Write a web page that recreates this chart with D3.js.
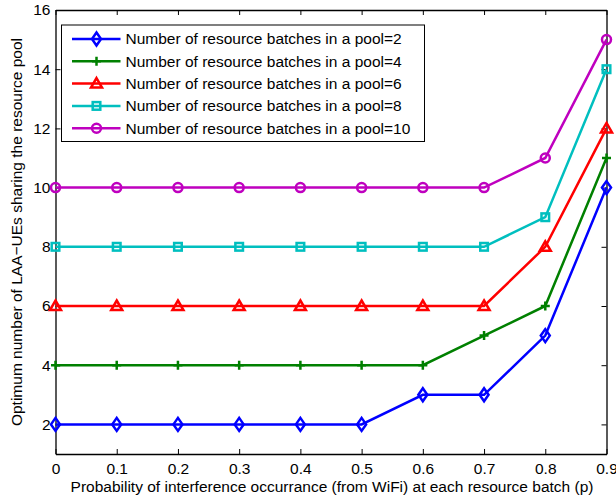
<!DOCTYPE html>
<html>
<head>
<meta charset="utf-8">
<script src="https://d3js.org/d3.v7.min.js"></script>
<style>
  body { margin: 0; background: #fff; }
  text { font-family: "Liberation Sans", Arial, sans-serif; fill: #000; }
</style>
</head>
<body>
<script>
// data
var xValues = [0, 0.1, 0.2, 0.3, 0.4, 0.5, 0.6, 0.7, 0.8, 0.9];
var pool2  = [2, 2, 2, 2, 2, 2, 3, 3, 5, 10];
var pool4  = [4, 4, 4, 4, 4, 4, 4, 5, 6, 11];
var pool6  = [6, 6, 6, 6, 6, 6, 6, 6, 8, 12];
var pool8  = [8, 8, 8, 8, 8, 8, 8, 8, 9, 14];
var pool10 = [10, 10, 10, 10, 10, 10, 10, 10, 11, 15];
var seriesNames = [
  "Number of resource batches in a pool=2",
  "Number of resource batches in a pool=4",
  "Number of resource batches in a pool=6",
  "Number of resource batches in a pool=8",
  "Number of resource batches in a pool=10"
];
var xTicks = [0, 0.1, 0.2, 0.3, 0.4, 0.5, 0.6, 0.7, 0.8, 0.9];
var yTicks = [2, 4, 6, 8, 10, 12, 14, 16];

var colors = ["#0000ff", "#008000", "#ff0000", "#00bfbf", "#bf00bf"];
var markers = ["diamond", "plus", "triangle", "square", "circle"];
var series = [pool2, pool4, pool6, pool8, pool10].map(function (v, i) {
  return { name: seriesNames[i], color: colors[i], marker: markers[i],
           values: v.map(function (y, j) { return { x: xValues[j], y: y }; }) };
});

var W = 616, H = 504;
var FS = "15.5px";
var margin = { top: 10, right: 9.5, bottom: 50, left: 55.5 };
var width = W - margin.left - margin.right,
    height = H - margin.top - margin.bottom;

var svg = d3.select("body").append("svg")
    .attr("width", W).attr("height", H);
var g = svg.append("g")
    .attr("transform", "translate(" + margin.left + "," + margin.top + ")");

var x = d3.scaleLinear().domain([0, 0.9]).range([0, width]);
var y = d3.scaleLinear().domain([1, 16]).range([height, 0]);

// axes (MATLAB style: inward ticks on all four sides)
var fmtX = function (d) { return d === 0 ? "0" : d3.format(".1f")(d); };
var ax = g.append("g").attr("transform", "translate(0," + height + ")")
    .call(d3.axisBottom(x).tickValues(xTicks).tickFormat(fmtX).tickSizeInner(-5).tickSizeOuter(0).tickPadding(9));
var ay = g.append("g")
    .call(d3.axisLeft(y).tickValues(yTicks).tickSizeInner(-5).tickSizeOuter(0).tickPadding(5));
var at = g.append("g")
    .call(d3.axisTop(x).tickValues(xTicks).tickFormat("").tickSizeInner(-5).tickSizeOuter(0));
var ar = g.append("g").attr("transform", "translate(" + width + ",0)")
    .call(d3.axisRight(y).tickValues(yTicks).tickFormat("").tickSizeInner(-5).tickSizeOuter(0));
[ax, ay, at, ar].forEach(function (a) {
  a.selectAll("text").style("font-size", FS).attr("font-family", null);
  a.selectAll("line").attr("stroke", "#000");
  a.select(".domain").attr("stroke", "#000").attr("stroke-width", 1.3);
});

// marker shapes
function drawMarker(sel, type, color, cx, cy) {
  var m;
  if (type === "diamond") {
    m = sel.append("path").attr("d", "M0,-6.5L4.5,0L0,6.5L-4.5,0Z");
  } else if (type === "plus") {
    m = sel.append("path").attr("d", "M-4.5,0H4.5M0,-4.5V4.5");
  } else if (type === "triangle") {
    m = sel.append("path").attr("d", "M0,-5.5L5.5,4L-5.5,4Z");
  } else if (type === "square") {
    m = sel.append("rect").attr("x", -3.8).attr("y", -3.8).attr("width", 7.6).attr("height", 7.6);
  } else {
    m = sel.append("circle").attr("r", 4.5);
  }
  m.attr("transform", "translate(" + cx + "," + cy + ")")
    .attr("fill", "none").attr("stroke", color).attr("stroke-width", 2.5);
}

var line = d3.line().x(function (d) { return x(d.x); }).y(function (d) { return y(d.y); });

series.forEach(function (s) {
  var sg = g.append("g");
  sg.append("path").datum(s.values)
    .attr("d", line)
    .attr("fill", "none").attr("stroke", s.color).attr("stroke-width", 2.5);
  s.values.forEach(function (d) { drawMarker(sg, s.marker, s.color, x(d.x), y(d.y)); });
});

// legend
var lg = svg.append("g").attr("transform", "translate(61.5,25)");
lg.append("rect").attr("width", 363).attr("height", 116.5)
  .attr("fill", "#fff").attr("stroke", "#000").attr("stroke-width", 1);
series.forEach(function (s, i) {
  var yy = 14 + i * 22.3;
  lg.append("line").attr("x1", 10.5).attr("x2", 59).attr("y1", yy).attr("y2", yy)
    .attr("stroke", s.color).attr("stroke-width", 2.5);
  drawMarker(lg, s.marker, s.color, 35, yy);
  lg.append("text").attr("x", 64).attr("y", yy).attr("dy", "0.35em")
    .style("font-size", FS).text(s.name);
});

// axis labels
svg.append("text")
  .attr("x", margin.left + width / 2 + 1).attr("y", 492)
  .attr("text-anchor", "middle").style("font-size", FS)
  .text("Probability of interference occurrance (from WiFi) at each resource batch (p)");
svg.append("text")
  .attr("transform", "translate(22," + (margin.top + height / 2) + ") rotate(-90)")
  .attr("text-anchor", "middle").style("font-size", FS)
  .text("Optimum number of LAA\u2212UEs sharing the resource pool");
</script>
</body>
</html>
